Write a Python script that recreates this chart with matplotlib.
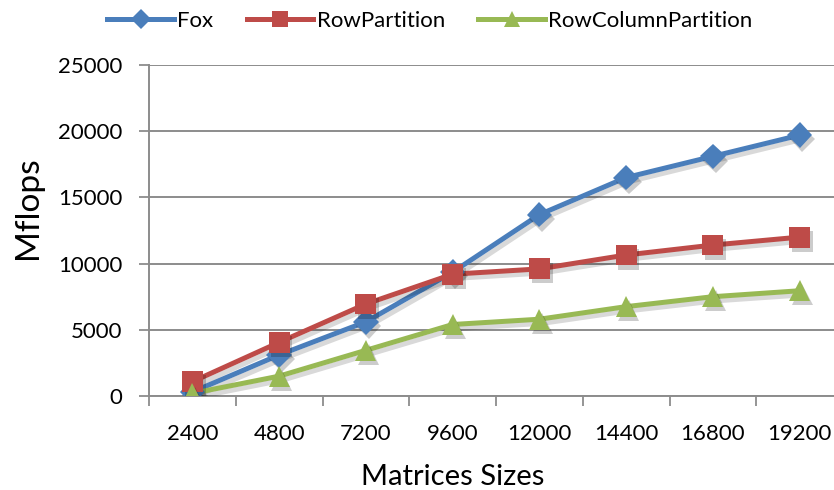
import matplotlib
matplotlib.use("Agg")
import matplotlib.pyplot as plt
import matplotlib.patheffects as pe

# --- data ---
sizes = ["2400", "4800", "7200", "9600", "12000", "14400", "16800", "19200"]
fox = [300, 3100, 5600, 9350, 13700, 16500, 18100, 19700]
row_partition = [1080, 4050, 6950, 9200, 9600, 10650, 11400, 12000]
row_col_partition = [200, 1500, 3450, 5400, 5800, 6750, 7500, 7950]

plt.rcParams['font.family'] = ['Lato', 'DejaVu Sans']
GRID = '#8c8c8c'

fig = plt.figure(figsize=(8.34, 4.9), dpi=100)
ax = fig.add_axes([149 / 834, 94 / 490, 694 / 834, 331 / 490])

x = list(range(len(sizes)))
line_shadow = [pe.SimpleLineShadow(offset=(2, -3), alpha=0.15, shadow_color='k'), pe.Normal()]
mark_shadow = [pe.SimplePatchShadow(offset=(2, -3), alpha=0.2, shadow_rgbFace='k'), pe.Normal()]

series = [
    ("Fox", fox, '#4A7EBB', 'D', 13),
    ("RowPartition", row_partition, '#BE4B48', 's', 15),
    ("RowColumnPartition", row_col_partition, '#98B954', '^', 15),
]
for name, vals, col, mk, ms in series:
    ax.plot(x, vals, color=col, lw=3.6, solid_capstyle='round',
            path_effects=line_shadow, zorder=3)
    ax.plot(x, vals, linestyle='none', marker=mk, markersize=ms, color=col,
            markeredgewidth=0, path_effects=mark_shadow, zorder=4)
    # legend proxy
    ax.plot([], [], color=col, lw=3.6, marker=mk, markersize=ms * 0.8,
            markeredgewidth=0, label=name)

ax.set_xlim(-0.5, len(sizes) - 0.5)
ax.set_ylim(0, 25000)
ax.set_yticks(range(0, 25001, 5000))
ax.set_xticks([i - 0.5 for i in range(len(sizes) + 1)], minor=False)
ax.set_xticklabels([])
ax.set_xticks(x, minor=True)
ax.set_xticklabels(sizes, minor=True)
ax.tick_params(axis='x', which='minor', length=0, labelsize=16, pad=20)
ax.tick_params(axis='x', which='major', length=7, width=1.3, color=GRID)
ax.tick_params(axis='y', length=7, width=1.3, color=GRID, labelsize=16, pad=12)

ax.grid(axis='y', color=GRID, lw=1.4)
ax.set_axisbelow(True)
for s in ['top', 'right']:
    ax.spines[s].set_visible(False)
for s in ['left', 'bottom']:
    ax.spines[s].set_color(GRID)
    ax.spines[s].set_linewidth(1.4)

fig.text(28 / 834, 1 - 208 / 490, "Mflops", fontsize=24, rotation=90,
         ha='center', va='center')
fig.text(453 / 834, 1 - 477 / 490, "Matrices Sizes", fontsize=21,
         ha='center', va='center')

ax.legend(loc='upper center', bbox_to_anchor=(430 / 834, 1.0), bbox_transform=fig.transFigure,
          ncol=3, frameon=False, fontsize=16, handlelength=3.0, handletextpad=0.15,
          columnspacing=1.5, borderaxespad=0.1)

fig.savefig("out.png", dpi=100)
